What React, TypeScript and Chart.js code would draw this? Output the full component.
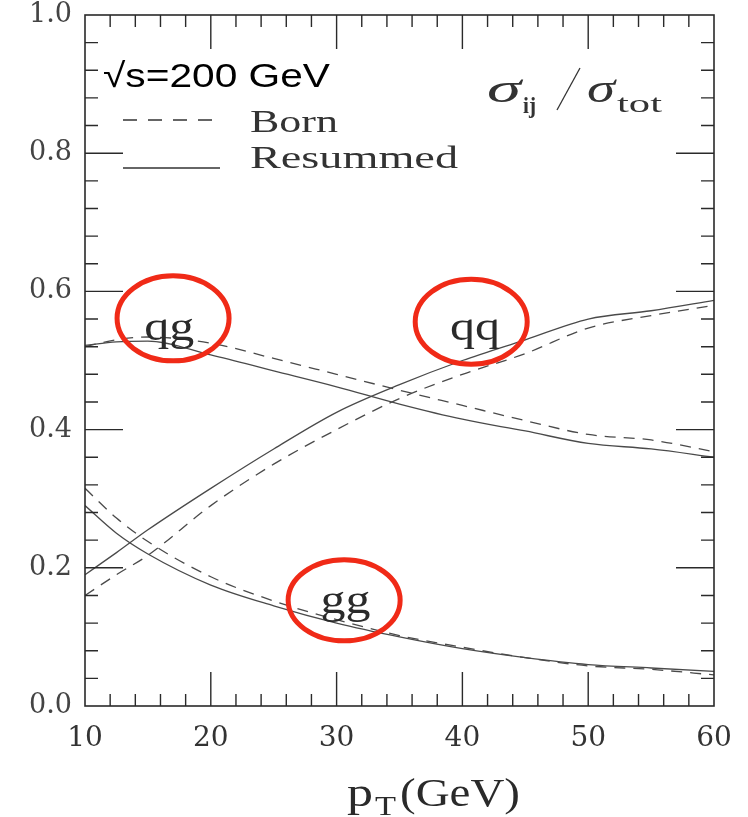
import React, { useEffect, useRef } from "react";
import { Chart, registerables } from "chart.js";
Chart.register(...registerables);

// ---- data ----
const ptValues = [10, 12.5, 15, 20, 25, 30, 35, 40, 45, 50, 55, 60];
const qqResummed = [0.19, 0.222, 0.255, 0.315, 0.372, 0.425, 0.465, 0.5, 0.53, 0.56, 0.572, 0.587];
const qqBorn = [0.16, 0.19, 0.218, 0.29, 0.35, 0.4, 0.445, 0.48, 0.51, 0.547, 0.565, 0.58];
const qgResummed = [0.522, 0.527, 0.528, 0.508, 0.485, 0.462, 0.437, 0.415, 0.398, 0.38, 0.372, 0.36];
const qgBorn = [0.52, 0.53, 0.534, 0.525, 0.503, 0.48, 0.457, 0.435, 0.413, 0.393, 0.385, 0.368];
const ggResummed = [0.29, 0.25, 0.22, 0.175, 0.145, 0.12, 0.1, 0.083, 0.07, 0.06, 0.055, 0.05];
const ggBorn = [0.315, 0.272, 0.238, 0.187, 0.152, 0.125, 0.102, 0.085, 0.07, 0.058, 0.053, 0.045];

const xMin = 10, xMax = 60, xMajorStep = 10, xMinorStep = 2;
const yMin = 0, yMax = 1, yMajorStep = 0.2, yMinorStep = 0.04;

const channelLabels = [
  { text: "qg", x: 16.7, y: 0.55 },
  { text: "qq", x: 41, y: 0.55 },
  { text: "gg", x: 30.7, y: 0.155 },
];
const circles = [
  { x: 17.0, y: 0.561, rx: 56, ry: 42.5 },
  { x: 40.7, y: 0.556, rx: 56, ry: 42.5 },
  { x: 30.6, y: 0.153, rx: 56, ry: 40.5 },
];

const SERIF = '"DejaVu Serif", serif';
const TSERIF = '"Liberation Serif", serif';
const LINE = "#4a4a4a";
const FRAME = "#2a2a2a";
const RED = "#f02a17";

function pts(ys: number[]) {
  return ptValues.map((x, i) => ({ x, y: ys[i] }));
}

function fitText(ctx: CanvasRenderingContext2D, text: string, x: number, y: number, font: string, targetW: number) {
  ctx.save();
  ctx.font = font;
  const w = ctx.measureText(text).width;
  ctx.translate(x, y);
  ctx.scale(targetW / w, 1);
  ctx.fillText(text, 0, 0);
  ctx.restore();
}

const decorPlugin = {
  id: "decor",
  afterDatasetsDraw(chart: any) {
    const ctx: CanvasRenderingContext2D = chart.ctx;
    const xs = chart.scales.x;
    const ys = chart.scales.y;
    const { left, right, top, bottom } = chart.chartArea;
    ctx.save();
    // frame
    ctx.strokeStyle = FRAME;
    ctx.lineWidth = 1.6;
    ctx.strokeRect(left, top, right - left, bottom - top);
    // x ticks (top & bottom, inward)
    ctx.lineWidth = 1.4;
    const nx = Math.round((xMax - xMin) / xMinorStep);
    for (let i = 1; i < nx; i++) {
      const v = xMin + i * xMinorStep;
      const px = xs.getPixelForValue(v);
      const major = Math.abs(v % xMajorStep) < 1e-6;
      const len = major ? 34 : 12;
      ctx.beginPath();
      ctx.moveTo(px, bottom);
      ctx.lineTo(px, bottom - len);
      ctx.moveTo(px, top);
      ctx.lineTo(px, top + len);
      ctx.stroke();
    }
    const ny = Math.round((yMax - yMin) / yMinorStep);
    for (let i = 1; i < ny; i++) {
      const v = yMin + i * yMinorStep;
      const py = ys.getPixelForValue(v);
      const major = i % Math.round(yMajorStep / yMinorStep) === 0;
      const len = major ? 38 : 13;
      ctx.beginPath();
      ctx.moveTo(left, py);
      ctx.lineTo(left + len, py);
      ctx.moveTo(right, py);
      ctx.lineTo(right - len, py);
      ctx.stroke();
    }

    // sqrt(s) label
    ctx.fillStyle = "#000";
    ctx.textBaseline = "alphabetic";
    ctx.textAlign = "left";
    fitText(ctx, "\u221As=200 GeV", 103, 87, '34px "Liberation Sans", Arial, sans-serif', 227);

    // legend
    ctx.strokeStyle = "#333";
    ctx.lineWidth = 1.4;
    ctx.setLineDash([14, 11]);
    ctx.beginPath();
    ctx.moveTo(123, 120);
    ctx.lineTo(223, 120);
    ctx.stroke();
    ctx.setLineDash([]);
    ctx.beginPath();
    ctx.moveTo(123, 168);
    ctx.lineTo(220, 168);
    ctx.stroke();
    ctx.fillStyle = "#333";
    fitText(ctx, "Born", 250, 132, `31px ${TSERIF}`, 88);
    fitText(ctx, "Resummed", 250, 168, `31px ${TSERIF}`, 208);

    // sigma_ij / sigma_tot
    ctx.fillStyle = "#333";
    fitText(ctx, "\u03C3", 487, 102, `italic 42px ${TSERIF}`, 34);
    fitText(ctx, "ij", 523, 113, `bold 24px ${TSERIF}`, 13);
    ctx.strokeStyle = "#333";
    ctx.lineWidth = 1.3;
    ctx.beginPath();
    ctx.moveTo(557, 110);
    ctx.lineTo(580, 68);
    ctx.stroke();
    fitText(ctx, "\u03C3", 587, 102, `italic 42px ${TSERIF}`, 28);
    fitText(ctx, "tot", 617, 112, `26px ${TSERIF}`, 45);

    // channel labels
    ctx.fillStyle = "#2a2a2a";
    ctx.textAlign = "left";
    for (const l of channelLabels) {
      const px = xs.getPixelForValue(l.x);
      const py = ys.getPixelForValue(l.y);
      fitText(ctx, l.text, px - 25, py + 14, `42px ${TSERIF}`, 50);
    }

    // red ellipses
    ctx.strokeStyle = RED;
    ctx.lineWidth = 5;
    for (const c of circles) {
      ctx.beginPath();
      ctx.ellipse(xs.getPixelForValue(c.x), ys.getPixelForValue(c.y), c.rx, c.ry, 0, 0, Math.PI * 2);
      ctx.stroke();
    }

    // axis title p_T(GeV)
    ctx.fillStyle = "#2a2a2a";
    fitText(ctx, "p", 347, 806, `40px ${TSERIF}`, 26);
    fitText(ctx, "T", 375, 815, `27px ${TSERIF}`, 21);
    fitText(ctx, "(GeV)", 400, 806, `40px ${TSERIF}`, 120);
    ctx.restore();
  },
};

export default function App() {
  const ref = useRef<HTMLCanvasElement | null>(null);
  useEffect(() => {
    document.body.style.margin = "0";
    const canvas = ref.current;
    if (!canvas) return;
    const mk = (label: string, ys: number[], dashed: boolean) => ({
      label,
      data: pts(ys),
      borderColor: LINE,
      borderWidth: 1.3,
      borderDash: dashed ? [11, 8] : [],
      pointRadius: 0,
      fill: false,
      tension: 0.4,
      cubicInterpolationMode: "monotone" as const,
    });
    const chart = new Chart(canvas, {
      type: "line",
      data: {
        datasets: [
          mk("qq Resummed", qqResummed, false),
          mk("qq Born", qqBorn, true),
          mk("qg Resummed", qgResummed, false),
          mk("qg Born", qgBorn, true),
          mk("gg Resummed", ggResummed, false),
          mk("gg Born", ggBorn, true),
        ],
      },
      options: {
        responsive: false,
        animation: false,
        layout: { padding: { left: 0, right: 34, top: 15, bottom: 0 } },
        plugins: { legend: { display: false }, tooltip: { enabled: false } },
        scales: {
          x: {
            type: "linear",
            min: xMin,
            max: xMax,
            grid: { display: false, drawTicks: false },
            border: { display: false },
            ticks: {
              stepSize: xMajorStep,
              padding: 16,
              color: "#333",
              font: { family: "DejaVu Serif", size: 28 },
            },
            afterFit: (s: any) => {
              s.height = 111;
              s.paddingLeft = 0;
              s.paddingRight = 0;
            },
          },
          y: {
            type: "linear",
            min: yMin,
            max: yMax,
            grid: { display: false, drawTicks: false },
            border: { display: false },
            ticks: {
              stepSize: yMajorStep,
              padding: 13,
              color: "#444",
              font: { family: "DejaVu Serif", size: 27 },
              callback: (v: any) => Number(v).toFixed(1),
            },
            afterFit: (s: any) => {
              s.width = 85;
              s.paddingTop = 0;
              s.paddingBottom = 0;
            },
          },
        },
      },
      plugins: [decorPlugin],
    });
    return () => chart.destroy();
  }, []);
  return <canvas ref={ref} width={748} height={817} style={{ display: "block", width: 748, height: 817 }} />;
}
